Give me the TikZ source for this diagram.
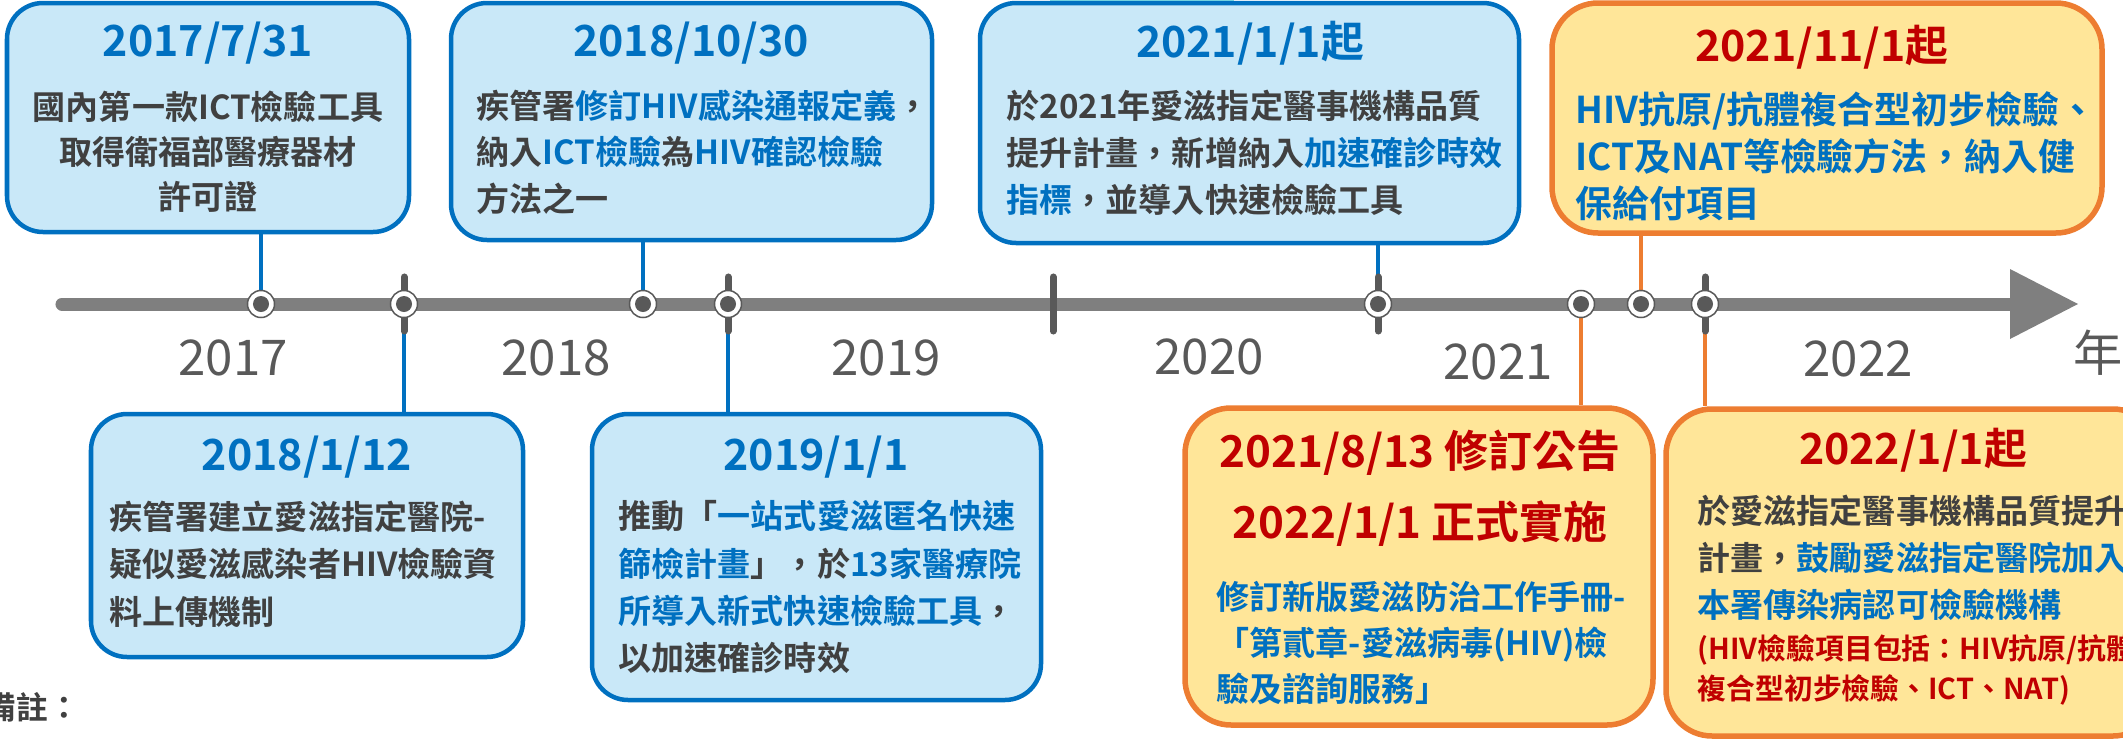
\documentclass[tikz,border=0pt]{standalone}
\usepackage{fontspec}
\setmainfont{Noto Sans CJK TC}[BoldFont={Noto Sans CJK TC Bold}]
\usetikzlibrary{fit,backgrounds}
\definecolor{cblue}{RGB}{0,112,192}
\definecolor{cfillb}{RGB}{201,232,248}
\definecolor{corange}{RGB}{237,125,49}
\definecolor{cfillo}{RGB}{255,230,153}
\definecolor{cred}{RGB}{192,0,0}
\definecolor{ctext}{RGB}{64,64,64}
\definecolor{caxis}{RGB}{127,127,127}
\definecolor{cdark}{RGB}{89,89,89}
\definecolor{ccyan}{RGB}{130,224,228}
\newcommand{\hlb}[1]{\textcolor{cblue}{#1}}
\begin{document}
\begin{tikzpicture}[x=0.01cm,y=-0.01cm,
  bluebox/.style={draw=cblue, fill=cfillb, line width=0.045cm, rounded corners=0.36cm, inner sep=0pt},
  orangebox/.style={draw=corange, fill=cfillo, line width=0.055cm, rounded corners=0.46cm, inner sep=0pt},
  ttl/.style={inner sep=0pt, text=cblue, font=\bfseries\fontsize{12.2}{14}\selectfont},
  rttl/.style={ttl, text=cred},
  bodytxt/.style={inner sep=0pt, text=ctext, align=left, anchor=west, font=\bfseries\fontsize{9.4}{13.2}\selectfont},
  yr/.style={inner sep=0pt, text=cdark, font=\fontsize{14}{16}\selectfont},
  dot/.style={circle, draw=cdark, line width=0.015cm, fill=white, minimum size=0.27cm, inner sep=0pt,
    path picture={\fill[cdark] (path picture bounding box.center) circle (0.08cm);}},
  bcon/.style={draw=cblue, line width=0.045cm},
  ocon/.style={draw=corange, line width=0.045cm},
  tk/.style={draw=cdark, line width=0.07cm, line cap=round},
  axisline/.style={draw=caxis, line width=0.13cm, line cap=round}
]
\useasboundingbox (0,0) rectangle (2123,739);
\clip (0,0) rectangle (2123,739);
\fill[ccyan] (1050,0) rectangle (1234,3.5);

% upper boxes
\node[bluebox, fit={(7,3)(409,232)}] (b1) {};
\node[ttl] (b1t) at (208,43) {2017/7/31};
\node[bodytxt, anchor=center, align=center, font=\bfseries\fontsize{9.4}{12.8}\selectfont] (b1x) at (208,152) {國內第一款ICT檢驗工具\\取得衛福部醫療器材\\許可證};

\node[bluebox, fit={(451,3)(932,240)}] (b2) {};
\node[ttl] (b2t) at (691,43) {2018/10/30};
\node[bodytxt] (b2x) at (476,152) {疾管署\hlb{修訂HIV感染通報定義}，\\納入\hlb{ICT檢驗}為\hlb{HIV確認檢驗}\\方法之一};

\node[bluebox, fit={(980,3)(1519,243)}] (b3) {};
\node[ttl] (b3t) at (1250,43) {2021/1/1起};
\node[bodytxt, font=\bfseries\fontsize{9.4}{13.4}\selectfont] (b3x) at (1006,153) {於2021年愛滋指定醫事機構品質\\提升計畫，新增納入\hlb{加速確診時效}\\\hlb{指標}，並導入快速檢驗工具};

\node[orangebox, fit={(1552,3)(2102,233)}] (b4) {};
\node[rttl] (b4t) at (1822,47) {2021/11/1起};
\node[bodytxt, text=cblue, font=\bfseries\fontsize{10.5}{13.4}\selectfont] (b4x) at (1575,156) {HIV抗原/抗體複合型初步檢驗、\\ICT及NAT等檢驗方法，納入健\\保給付項目};

% lower boxes
\node[bluebox, fit={(91,414)(523,657)}] (b5) {};
\node[ttl] (b5t) at (307,457) {2018/1/12};
\node[bodytxt, font=\bfseries\fontsize{9.4}{13.5}\selectfont] (b5x) at (109,564) {疾管署建立愛滋指定醫院-\\疑似愛滋感染者HIV檢驗資\\料上傳機制};

\node[bluebox, fit={(592,414)(1041,700)}] (b6) {};
\node[ttl] (b6t) at (816,457) {2019/1/1};
\node[bodytxt, font=\bfseries\fontsize{9.4}{13.4}\selectfont] (b6x) at (618,587) {推動「\hlb{一站式愛滋匿名快速}\\\hlb{篩檢計畫}」，於\hlb{13家醫療院}\\\hlb{所導入新式快速檢驗工具}，\\以加速確診時效};

\node[orangebox, fit={(1185,408)(1653,725)}] (b7) {};
\node[rttl, font=\bfseries\fontsize{12.5}{14}\selectfont] (b7t) at (1420,453) {2021/8/13 修訂公告};
\node[rttl, font=\bfseries\fontsize{12.5}{14}\selectfont] (b7u) at (1420,524) {2022/1/1 正式實施};
\node[bodytxt, text=cblue] (b7x) at (1216,643) {修訂新版愛滋防治工作手冊-\\「第貳章-愛滋病毒(HIV)檢\\驗及諮詢服務」};

\node[orangebox, fit={(1666,409)(2159,736)}] (b8) {};
\node[rttl] (b8t) at (1913,450) {2022/1/1起};
\node[bodytxt, font=\bfseries\fontsize{9.4}{13.4}\selectfont] (b8x) at (1697,558) {於愛滋指定醫事機構品質提升\\計畫，\hlb{鼓勵愛滋指定醫院加入}\\\hlb{本署傳染病認可檢驗機構}};
\node[bodytxt, text=cred, font=\bfseries\fontsize{8.2}{11.4}\selectfont] (b8y) at (1697,670) {(HIV檢驗項目包括：HIV抗原/抗體\\複合型初步檢驗、ICT、NAT)};

% timeline dots
\node[dot] (n1) at (261,304) {};
\node[dot] (n2) at (404,304) {};
\node[dot] (n3) at (643,304) {};
\node[dot] (n4) at (728,304) {};
\node[dot] (n5) at (1378,304) {};
\node[dot] (n6) at (1581,304) {};
\node[dot] (n7) at (1641,304) {};
\node[dot] (n8) at (1705,304) {};
\coordinate (t3) at (1053,304);

% year labels
\node[yr] (y17) at (233,358) {2017};
\node[yr] (y18) at (556,358) {2018};
\node[yr] (y19) at (886,358) {2019};
\node[yr] (y20) at (1209,357) {2020};
\node[yr] (y21) at (1498,362) {2021};
\node[yr] (y22) at (1858,359) {2022};
\node[yr] (ynian) at (2098,353) {年};

% note
\node[inner sep=0pt, anchor=west, text=ctext, font=\bfseries\fontsize{9}{11}\selectfont] (note) at (-16,707) {備註：};

\begin{pgfonlayer}{background}
\coordinate (axL) at (62,304);
\coordinate (axR) at (2012,304);
\coordinate (axT) at (2078,304);
\draw[axisline] (axL) -- (axR);
\fill[caxis] (2010,269) -- (axT) -- (2010,339) -- cycle;
\draw[bcon] (n1.center) -- (n1 |- b1.south);
\draw[bcon] (n3.center) -- (n3 |- b2.south);
\draw[bcon] (n5.center) -- (n5 |- b3.south);
\draw[ocon] (n7.center) -- (n7 |- b4.south);
\draw[bcon] (n2.center) -- (n2 |- b5.north);
\draw[bcon] (n4.center) -- (n4 |- b6.north);
\draw[ocon] (n6.center) -- (n6 |- b7.north);
\draw[ocon] (n8.center) -- (n8 |- b8.north);
\foreach \t in {n2,n4,t3,n5,n8}{
  \draw[tk] ([yshift=0.27cm]\t.center) -- ([yshift=-0.27cm]\t.center);
}
\end{pgfonlayer}
\end{tikzpicture}
\end{document}
